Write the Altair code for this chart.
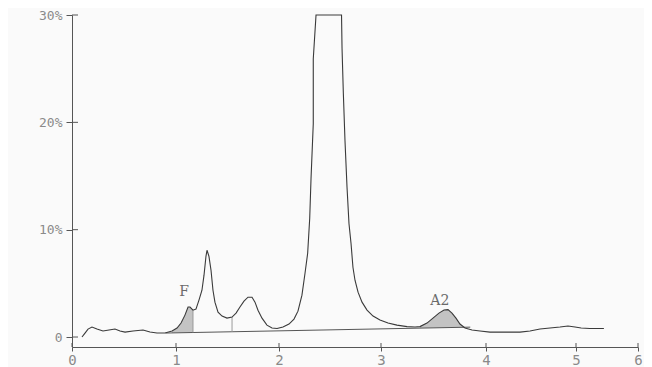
import altair as alt
import pandas as pd

# ---- data ----
scan_x = [0.096, 0.125, 0.154, 0.192, 0.24, 0.298, 0.356, 0.413, 0.462, 0.51, 0.587, 0.683,
          0.75, 0.817, 0.894, 0.962, 1.01, 1.049, 1.087, 1.117, 1.136, 1.165, 1.194, 1.223,
          1.252, 1.272, 1.291, 1.301, 1.32, 1.34, 1.359, 1.378, 1.408, 1.447, 1.495, 1.544,
          1.583, 1.621, 1.66, 1.699, 1.738, 1.767, 1.796, 1.835, 1.883, 1.932, 1.981, 2.039,
          2.098, 2.147, 2.186, 2.225, 2.255, 2.281, 2.301, 2.314, 2.336, 2.336, 2.363, 2.613,
          2.618, 2.631, 2.647, 2.667, 2.686, 2.706, 2.725, 2.745, 2.775, 2.814, 2.863, 2.922,
          2.99, 3.067, 3.152, 3.248, 3.324, 3.371, 3.438, 3.495, 3.552, 3.6, 3.638, 3.676,
          3.714, 3.752, 3.8, 3.867, 3.943, 4.044, 4.211, 4.378, 4.489, 4.6, 4.711, 4.822,
          4.911, 4.989, 5.083, 5.222, 5.45]
scan_y = [0.0, 0.37, 0.74, 0.93, 0.74, 0.56, 0.65, 0.74, 0.56, 0.46, 0.56, 0.65,
          0.46, 0.37, 0.37, 0.56, 0.84, 1.3, 2.04, 2.79, 2.79, 2.5, 2.6, 3.44,
          4.36, 5.76, 7.52, 8.08, 7.52, 6.22, 4.36, 3.25, 2.32, 1.95, 1.76, 1.86,
          2.23, 2.79, 3.34, 3.71, 3.71, 3.25, 2.5, 1.76, 1.11, 0.84, 0.79, 0.93,
          1.21, 1.67, 2.41, 3.9, 5.94, 7.8, 11.05, 14.76, 19.87, 25.9, 30.0, 30.0,
          26.9, 22.66, 18.29, 13.93, 10.58, 8.73, 6.5, 5.29, 4.18, 3.25, 2.51, 1.95,
          1.58, 1.3, 1.11, 0.97, 0.93, 0.97, 1.3, 1.76, 2.23, 2.51, 2.55, 2.23,
          1.76, 1.21, 0.84, 0.65, 0.56, 0.46, 0.46, 0.46, 0.56, 0.74, 0.84, 0.93,
          1.02, 0.93, 0.84, 0.79, 0.79]

x_ticks = [0, 1, 2, 3, 4, 5, 6]
y_ticks = [0, 10, 20, 30]

baseline_x = [0.9, 3.85]
baseline_y = [0.37, 0.92]

peak_names = ["F", "A2"]
peak_start = [0.9, 3.371]
peak_end = [1.165, 3.8]
peak_label_x = [1.078, 3.56]
peak_label_y = [3.5, 2.7]

separator_x = [1.165, 1.544]
separator_y = [2.5, 1.86]

# ---- tables ----
df = pd.DataFrame({"x": scan_x, "y": scan_y})
slope = (baseline_y[1] - baseline_y[0]) / (baseline_x[1] - baseline_x[0])
base_expr = f"{baseline_y[0]} + (datum.x - {baseline_x[0]}) * {slope}"

shade_rows = []
for name, a, b in zip(peak_names, peak_start, peak_end):
    for xv, yv in zip(scan_x, scan_y):
        if a - 1e-9 <= xv <= b + 1e-9:
            shade_rows.append({"peak": name, "x": xv, "y": yv})
shade_df = pd.DataFrame(shade_rows)
sep_df = pd.DataFrame({"x": separator_x, "y": separator_y})
base_df = pd.DataFrame({"x": baseline_x, "y": baseline_y})
lab_df = pd.DataFrame({"name": peak_names, "x": peak_label_x, "y": peak_label_y})

W, H = 572, 332
FONT = "DejaVu Sans Mono"
AX = "#555555"
LAB = "#8a8a8a"

xs = alt.Scale(domain=x_ticks, range=[0, 104, 207, 309, 414, 504, 566], nice=False, zero=False)
ys = alt.Scale(domain=[-0.93, 30], nice=False, zero=False)

x_axis = alt.Axis(values=x_ticks, title=None, grid=False, domainColor=AX, tickColor=AX,
                  tickSize=4, labelFont=FONT, labelFontSize=14, labelColor=LAB,
                  labelPadding=2, labelFlush=False, format="d")
y_axis = alt.Axis(values=y_ticks, title=None, grid=False, domainColor=AX, tickColor=AX,
                  tickSize=6, labelFont=FONT, labelFontSize=13, labelColor=LAB,
                  labelPadding=4,
                  labelExpr="datum.value == 0 ? '0\u00a0\u00a0\u00a0' : datum.value + '%'")

base = alt.Chart(df)

line = base.mark_line(color="#3a3a3a", strokeWidth=1.1, interpolate="linear").encode(
    x=alt.X("x:Q", scale=xs, axis=x_axis),
    y=alt.Y("y:Q", scale=ys, axis=y_axis),
)

area = alt.Chart(shade_df).transform_calculate(b=base_expr).mark_area(
    color="#8c8c8c", opacity=0.5
).encode(
    x=alt.X("x:Q", scale=xs),
    y=alt.Y("y:Q", scale=ys),
    y2="b:Q",
    detail="peak:N",
)

baseline = alt.Chart(base_df).mark_line(color="#555555", strokeWidth=1).encode(
    x=alt.X("x:Q", scale=xs), y=alt.Y("y:Q", scale=ys)
)

seps = alt.Chart(sep_df).transform_calculate(b=base_expr).mark_rule(
    color="#9a9a9a", strokeWidth=1
).encode(x=alt.X("x:Q", scale=xs), y=alt.Y("y:Q", scale=ys), y2="b:Q")

ytick_df = pd.DataFrame({"v": y_ticks})
yticks_in = alt.Chart(ytick_df).mark_rule(color=AX).encode(
    y=alt.Y("v:Q", scale=ys), x=alt.value(0), x2=alt.value(6)
)
xtick_df = pd.DataFrame({"v": x_ticks})
xticks_in = alt.Chart(xtick_df).mark_rule(color=AX).encode(
    x=alt.X("v:Q", scale=xs), y=alt.value(H), y2=alt.value(H - 4)
)

labels = alt.Chart(lab_df).mark_text(
    font="DejaVu Serif", fontSize=14, color="#6a6a6a", baseline="bottom", align="center"
).encode(x=alt.X("x:Q", scale=xs), y=alt.Y("y:Q", scale=ys), text="name:N")

chart = alt.layer(area, baseline, seps, line, yticks_in, xticks_in, labels).properties(
    width=W, height=H,
    autosize=alt.AutoSizeParams(type="none"),
    padding={"left": 64, "top": 7, "right": 0, "bottom": 20},
    background="#fafafa",
).configure_view(stroke=None)

chart.save("out.html", embed_options={"renderer": "svg", "actions": False})
